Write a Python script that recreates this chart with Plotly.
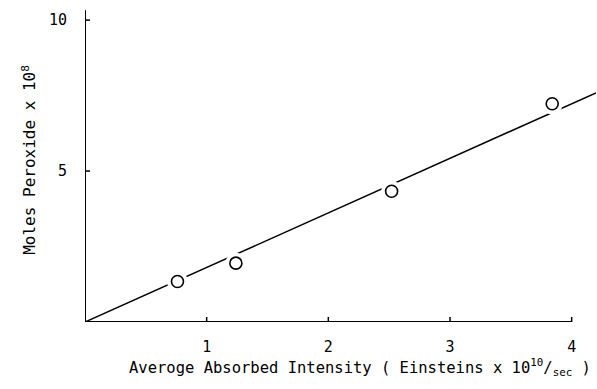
import plotly.graph_objects as go

# data
intensity = [0.76, 1.24, 2.52, 3.84]          # Einsteins x 10^10 / sec
peroxide = [1.34, 1.95, 4.33, 7.23]           # moles x 10^8
fit_x = [0.0, 4.2]
fit_y = [0.0, 7.59]
x_ticks = [1, 2, 3, 4]
y_ticks = [5, 10]

FONT = "DejaVu Sans Mono"

fig = go.Figure()
fig.add_trace(go.Scatter(x=fit_x, y=fit_y, mode="lines",
                         line=dict(color="black", width=1.5),
                         hoverinfo="skip", showlegend=False))
# white halo to interrupt the line around each marker
fig.add_trace(go.Scatter(x=intensity, y=peroxide, mode="markers",
                         marker=dict(size=21, color="white", line=dict(width=0)),
                         hoverinfo="skip", showlegend=False))
fig.add_trace(go.Scatter(x=intensity, y=peroxide, mode="markers",
                         marker=dict(size=12, color="white", symbol="circle",
                                     line=dict(color="black", width=1.6)),
                         showlegend=False))

# axis lines (x stops at 4, y slightly above 10)
fig.add_shape(type="line", x0=0, x1=x_ticks[-1], y0=0, y1=0,
              xref="x", yref="y", line=dict(color="black", width=2))
fig.add_shape(type="line", x0=0, x1=0, y0=0, y1=10.33,
              xref="x", yref="y", line=dict(color="black", width=2))
# inward tick marks
for v in x_ticks:
    fig.add_shape(type="line", xref="x", yref="y", x0=v, x1=v,
                  ysizemode="pixel", yanchor=0, y0=0, y1=5,
                  line=dict(color="black", width=1.5))
for v in y_ticks:
    fig.add_shape(type="line", xref="x", yref="y", y0=v, y1=v,
                  xsizemode="pixel", xanchor=0, x0=0, x1=5,
                  line=dict(color="black", width=1.5))

fig.update_layout(
    width=597, height=389,
    margin=dict(l=85, r=1, t=5, b=67),
    paper_bgcolor="white", plot_bgcolor="white",
    font=dict(family=FONT, size=13, color="black"),
    xaxis=dict(range=[0, 4.2], tickvals=x_ticks, ticktext=[str(v) for v in x_ticks],
               ticks="", showgrid=False, zeroline=False, showline=False,
               ticklabelstandoff=14, tickfont=dict(size=15)),
    yaxis=dict(range=[0, 10.5], tickvals=y_ticks, ticktext=[str(v) for v in y_ticks],
               ticks="", showgrid=False, zeroline=False, showline=False,
               ticklabelstandoff=17, tickfont=dict(size=15)),
    annotations=[
        dict(text="Averoge Absorbed Intensity ( Einsteins x 10<sup>10</sup>/<sub>sec</sub> )",
             xref="paper", yref="paper", x=0.083, y=-0.142,
             xanchor="left", yanchor="middle", showarrow=False,
             font=dict(family=FONT, size=15.5, color="black")),
        dict(text="Moles Peroxide x 10<sup>8</sup>",
             xref="paper", yref="paper", x=-0.11, y=0.511, textangle=-90,
             xanchor="center", yanchor="middle", showarrow=False,
             font=dict(family=FONT, size=16, color="black")),
    ],
)

fig.write_html("out.html")
